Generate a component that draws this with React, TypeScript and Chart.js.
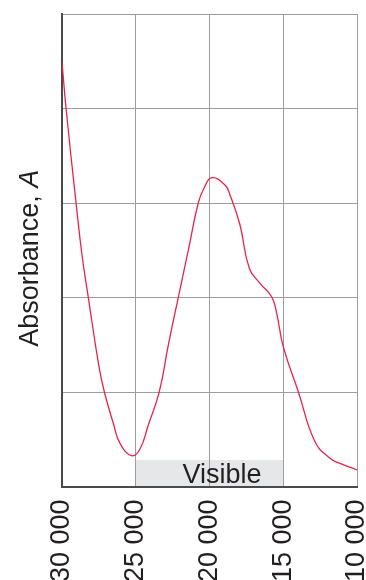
import React, { useEffect, useRef } from 'react';
import { Chart, registerables } from 'chart.js';

Chart.register(...registerables);

// Wavenumber (cm^-1) and absorbance
const wavenumbers = [30000, 29729, 29051, 28644, 28217, 27492, 27132, 26522, 26068, 25275, 24712, 24149, 23403, 22793, 22115, 21410, 20759, 20373, 19851, 18949, 18610, 17932, 17302, 16576, 15783, 15444, 14997, 13979, 12847, 11830, 11153, 10000];
const absorbance = [4.495, 4.008, 3.007, 2.45, 2.002, 1.268, 1.003, 0.669, 0.457, 0.326, 0.397, 0.651, 1.003, 1.497, 2.002, 2.521, 3.003, 3.156, 3.268, 3.19, 3.085, 2.767, 2.309, 2.15, 2.008, 1.833, 1.479, 1.003, 0.474, 0.298, 0.245, 0.175];

const xTickValues = [30000, 25000, 20000, 15000, 10000];
const yRange = [0, 5];
const visibleRange = [25000, 15000];
const visibleBandTop = 0.28;
const visibleLabel = 'Visible';
const visibleLabelCenter = 19150;
const yTitleMain = 'Absorbance, ';
const yTitleItalic = 'A';

const FONT = "'Liberation Sans', Arial, Helvetica, sans-serif";
const TEXT = '#231f20';

const formatTick = (v: number) => String(v).replace(/\B(?=(\d{3})+(?!\d))/g, ' ');

const bandPlugin = {
  id: 'visibleBand',
  beforeDraw(chart: any) {
    const { ctx, scales } = chart;
    const x = scales.x, y = scales.y;
    const x1 = x.getPixelForValue(visibleRange[0]);
    const x2 = x.getPixelForValue(visibleRange[1]);
    const y1 = y.getPixelForValue(visibleBandTop);
    const y2 = y.getPixelForValue(0);
    ctx.save();
    ctx.fillStyle = '#e6e7e8';
    ctx.fillRect(Math.min(x1, x2), y1, Math.abs(x2 - x1), y2 - y1);
    ctx.restore();
  },
  afterDraw(chart: any) {
    const { ctx, scales, chartArea } = chart;
    const x = scales.x, y = scales.y;
    ctx.save();
    ctx.fillStyle = TEXT;
    ctx.font = `27px ${FONT}`;
    ctx.textAlign = 'center';
    ctx.textBaseline = 'alphabetic';
    ctx.fillText(visibleLabel, x.getPixelForValue(visibleLabelCenter), y.getPixelForValue(0) - 3.5);

    // y-axis title with italic A
    const cy = (chartArea.top + chartArea.bottom) / 2 + 8;
    const bx = chartArea.left - 24;
    ctx.translate(bx, cy);
    ctx.rotate(-Math.PI / 2);
    ctx.font = `27px ${FONT}`;
    const w1 = ctx.measureText(yTitleMain).width;
    ctx.font = `italic 27px ${FONT}`;
    const w2 = ctx.measureText(yTitleItalic).width;
    const start = -(w1 + w2) / 2;
    ctx.textAlign = 'left';
    ctx.font = `27px ${FONT}`;
    ctx.fillText(yTitleMain, start, 0);
    ctx.font = `italic 27px ${FONT}`;
    ctx.fillText(yTitleItalic, start + w1, 0);
    ctx.restore();
  },
};

export default function App() {
  const ref = useRef<HTMLCanvasElement>(null);
  useEffect(() => {
    if (!ref.current) return;
    const chart = new Chart(ref.current, {
      type: 'line',
      data: {
        datasets: [
          {
            data: wavenumbers.map((w, i) => ({ x: w, y: absorbance[i] })),
            borderColor: '#e8234a',
            borderWidth: 1.3,
            pointRadius: 0,
            fill: false,
            tension: 0.45,
          },
        ],
      },
      options: {
        animation: false,
        responsive: true,
        maintainAspectRatio: false,
        layout: { padding: { left: 62, top: 14, right: 9, bottom: 0 } },
        plugins: { legend: { display: false }, tooltip: { enabled: false } },
        scales: {
          x: {
            type: 'linear',
            min: 10000,
            max: 30000,
            reverse: true,
            afterBuildTicks: (s: any) => {
              s.ticks = xTickValues.map((v) => ({ value: v }));
            },
            ticks: {
              minRotation: 90,
              maxRotation: 90,
              padding: 13,
              autoSkip: false,
              color: TEXT,
              font: { family: FONT, size: 27 },
              callback: (v: any) => formatTick(Number(v)),
            },
            grid: { color: '#9d9d9d', lineWidth: 1, drawTicks: false },
            border: { color: '#4a4a4a', width: 2 },
            afterFit: (s: any) => {
              s.paddingLeft = 0;
              s.paddingRight = 0;
              s.height = 93.5;
            },
          },
          y: {
            min: yRange[0],
            max: yRange[1],
            ticks: { display: false, stepSize: 1 },
            grid: { color: '#9d9d9d', lineWidth: 1, drawTicks: false },
            border: { color: '#4a4a4a', width: 2 },
            afterFit: (s: any) => {
              s.width = 0;
              s.paddingTop = 0;
              s.paddingBottom = 0;
            },
          },
        },
      } as any,
      plugins: [bandPlugin],
    });
    return () => chart.destroy();
  }, []);
  return (
    <div style={{ position: 'absolute', left: 0, top: 0, width: 366, height: 580, background: '#fff' }}>
      <canvas ref={ref} />
    </div>
  );
}
